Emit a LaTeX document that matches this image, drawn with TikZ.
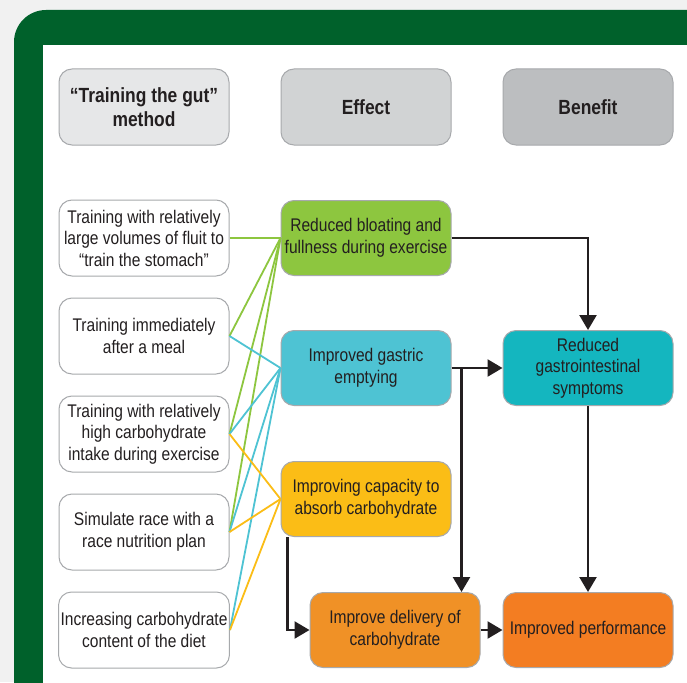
\documentclass[tikz,border=0pt]{standalone}
\usepackage{fontspec}
\setmainfont{Liberation Sans}[FakeStretch=0.85]
\usetikzlibrary{shapes.geometric, arrows.meta}
\definecolor{pagegray}{HTML}{F1F1F1}
\definecolor{framegreen}{HTML}{00612B}
\definecolor{boxgray}{HTML}{A7A9AC}
\definecolor{inkgray}{HTML}{231F20}
\definecolor{hdone}{HTML}{E6E7E8}
\definecolor{hdtwo}{HTML}{D1D3D4}
\definecolor{hdthree}{HTML}{BCBEC0}
\definecolor{bloatgreen}{HTML}{8DC63F}
\definecolor{gastricblue}{HTML}{4EC3D3}
\definecolor{absorbyellow}{HTML}{FBBD16}
\definecolor{giteal}{HTML}{14B6BF}
\definecolor{deliverorange}{HTML}{F09126}
\definecolor{perforange}{HTML}{F37D22}
\tikzstyle{headbox} = [rectangle, rounded corners=13pt, minimum width=170pt, minimum height=76pt, align=center, draw=boxgray, line width=1pt, text=inkgray, font=\fontsize{20.5}{24}\selectfont\bfseries]
\tikzstyle{methodbox} = [rectangle, rounded corners=13pt, minimum width=170pt, minimum height=76pt, inner xsep=2pt, align=center, draw=boxgray, line width=1pt, fill=white, text=inkgray, font=\fontsize{18.3}{21.5}\selectfont]
\tikzstyle{effectbox} = [methodbox, minimum height=75pt]
\tikzstyle{arrow} = [line width=2.4pt, draw=inkgray, -{Triangle[width=17pt,length=15pt]}]
\tikzstyle{link} = [line width=1.8pt]

\begin{document}
\begin{tikzpicture}[x=1pt, y=1pt, node distance=98pt]

\useasboundingbox (0,0) rectangle (687,-682);
\clip (0,0) rectangle (687,-682);
\fill[pagegray] (0,0) rectangle (687,-682);
\fill[framegreen, rounded corners=32pt] (14,-10) rectangle (740,-740);
\fill[white] (43,-45) rectangle (740,-740);

\node (method) [headbox, fill=hdone] at (144,-107) {“Training the gut”\\method};
\node (effect) [headbox, fill=hdtwo, right of=method, xshift=124pt] {Effect};
\node (benefit) [headbox, fill=hdthree, right of=effect, xshift=124pt] {Benefit};

\node (m1) [methodbox, below of=method, yshift=-33pt] {Training with relatively\\large volumes of fluit to\\“train the stomach”};
\node (m2) [methodbox, below of=m1] {Training immediately\\after a meal};
\node (m3) [methodbox, below of=m2] {Training with relatively\\high carbohydrate\\intake during exercise};
\node (m4) [methodbox, below of=m3] {Simulate race with a\\race nutrition plan};
\node (m5) [methodbox, below of=m4] {Increasing carbohydrate\\content of the diet};

\node (bloat) [effectbox, fill=bloatgreen, right of=m1, xshift=124pt] {Reduced bloating and\\fullness during exercise};
\node (gastric) [effectbox, fill=gastricblue, below of=bloat, yshift=-32pt] {Improved gastric\\emptying};
\node (absorb) [effectbox, fill=absorbyellow, below of=gastric, yshift=-33pt] {Improving capacity to\\absorb carbohydrate};
\node (gi) [effectbox, fill=giteal, right of=gastric, xshift=124pt] {Reduced\\gastrointestinal\\symptoms};
\node (perf) [effectbox, fill=perforange, below of=gi, yshift=-164pt] {Improved performance};
\node (deliver) [effectbox, fill=deliverorange, left of=perf, xshift=-95pt] {Improve delivery of\\carbohydrate};

\coordinate (split) at ([xshift=10pt]gastric.east);
\coordinate (drop) at ([xshift=7pt]absorb.south west);

\draw [link, bloatgreen] (m1.east) -- (bloat.west);
\draw [link, bloatgreen] (m2.east) -- (bloat.west);
\draw [link, bloatgreen] (m3.east) -- (bloat.west);
\draw [link, bloatgreen] (m4.east) -- (bloat.west);
\draw [link, gastricblue] (m2.east) -- (gastric.west);
\draw [link, gastricblue] (m3.east) -- (gastric.west);
\draw [link, gastricblue] (m4.east) -- (gastric.west);
\draw [link, gastricblue] (m5.east) -- (gastric.west);
\draw [link, absorbyellow] (m3.east) -- (absorb.west);
\draw [link, absorbyellow] (m4.east) -- (absorb.west);
\draw [link, absorbyellow] (m5.east) -- (absorb.west);

\draw [arrow] (bloat) -| (gi);
\draw [arrow] (gastric) -- (gi);
\draw [arrow] (split) -- (split |- deliver.north);
\draw [arrow] (gi) -- (perf);
\draw [arrow] (drop) |- (deliver);
\draw [arrow] (deliver) -- (perf);

\end{tikzpicture}
\end{document}
